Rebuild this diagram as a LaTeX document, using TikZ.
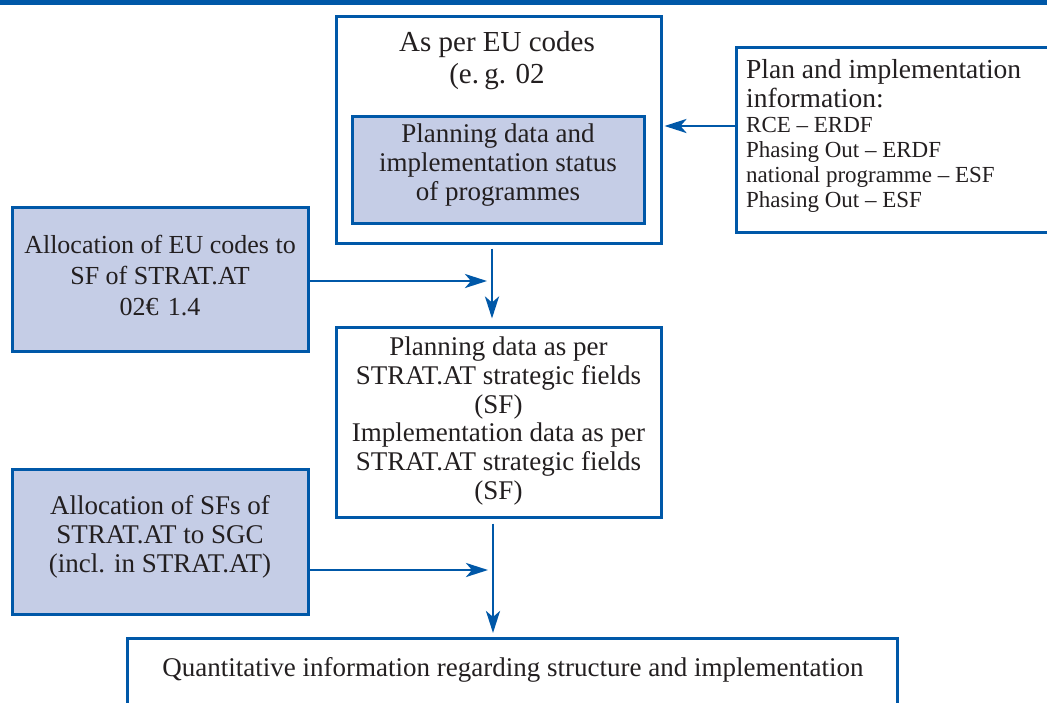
\documentclass[tikz,border=0pt]{standalone}
\usepackage{fontspec}
\setmainfont{Liberation Serif}
\usetikzlibrary{arrows.meta}
\definecolor{lineblue}{RGB}{0,88,168}
\definecolor{boxfill}{RGB}{197,205,230}
\definecolor{inkgray}{RGB}{35,31,32}
\begin{document}
\begin{tikzpicture}[x=1pt,y=-1pt,
  box/.style={draw=lineblue, line width=3pt, rectangle, inner sep=0pt},
  plainbox/.style={box, fill=white},
  tintbox/.style={box, fill=boxfill},
  txt/.style={text=inkgray, inner sep=0pt, align=center},
  bodyfont/.style={font=\fontsize{27}{29}\selectfont},
  flow/.style={draw=lineblue, line width=2.8pt, -{Stealth[length=22pt,width=14pt,inset=6pt]}},
]
\clip (0,0) rectangle (1047,702);
% header rule
\fill[lineblue] (0,0) rectangle (1047,5);

% programme data block
\node[plainbox, minimum width=325pt, minimum height=227pt] (A) at (498.5,129.5) {};
\node[txt, font=\fontsize{29}{32}\selectfont] (Ahead) at (497,61) {As per EU codes\\(e.\hspace{0.18em}g. 02};
\node[tintbox, minimum width=292pt, minimum height=107pt] (B) at (498,169.5) {};
\node[txt, bodyfont] (Btext) at (498,165) {Planning data and\\implementation status\\of programmes};

% input information on the right
\node[plainbox, minimum width=330pt, minimum height=185pt, anchor=north west] (C) at (735,46) {};
\node[txt, align=left, anchor=west, font=\fontsize{27.5}{29}\selectfont] (Ctitle) at (746,83.5) {Plan and implementation\\information:};
\node[txt, align=left, anchor=west, font=\fontsize{23}{25}\selectfont] (Clist) at (746,164.5) {RCE – ERDF\\Phasing Out – ERDF\\national programme – ESF\\Phasing Out – ESF};

% allocation of EU codes
\node[tintbox, minimum width=296pt, minimum height=144pt] (D) at (160,279) {};
\node[txt, font=\fontsize{26}{31}\selectfont] (Dtext) at (160,276) {Allocation of EU codes to\\SF of STRAT.AT\\02€\hspace{0.35em}1.4};

% strategic field data
\node[plainbox, minimum width=325pt, minimum height=190pt] (E) at (498.5,422) {};
\node[txt, font=\fontsize{27}{28.8}\selectfont] (Etext) at (498.5,421) {Planning data as per\\STRAT.AT strategic fields\\(SF)\\Implementation data as per\\STRAT.AT strategic fields\\(SF)};

% allocation of SFs
\node[tintbox, minimum width=296pt, minimum height=145pt] (F) at (160,541.5) {};
\node[txt, font=\fontsize{27}{29}\selectfont] (Ftext) at (160,537) {Allocation of SFs of\\STRAT.AT to SGC\\(incl. in STRAT.AT)};

% result
\node[plainbox, minimum width=770pt, minimum height=68pt, anchor=north] (G) at (512,637) {};
\node[txt, bodyfont] (Gtext) at (513,670) {Quantitative information regarding structure and implementation};

% connectors
\coordinate (cA) at (700,126);
\coordinate (j1) at (492,281);
\coordinate (j2) at (493,570);
\draw[flow, shorten >=2pt] (C.west |- cA) -- (A.east |- cA);
\draw[flow, shorten <=4pt, shorten >=7pt] (A.south -| j1) -- (E.north -| j1);
\draw[flow, shorten >=5pt] (D.east |- j1) -- (j1);
\draw[flow, shorten <=5pt, shorten >=4pt] (E.south -| j2) -- (G.north -| j2);
\draw[flow, shorten >=5pt] (F.east |- j2) -- (j2);
\end{tikzpicture}
\end{document}
